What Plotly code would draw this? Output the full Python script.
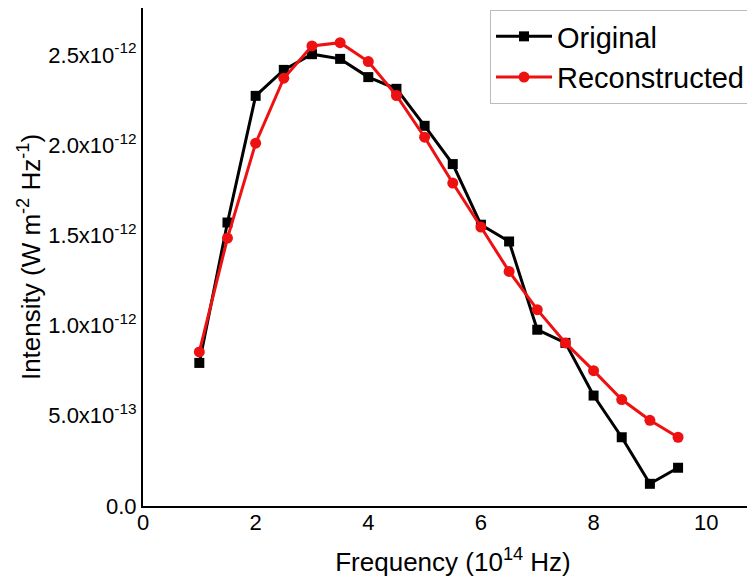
import plotly.graph_objects as go

freq = [1, 1.5, 2, 2.5, 3, 3.5, 4, 4.5, 5, 5.5, 6, 6.5, 7, 7.5, 8, 8.5, 9, 9.5]
original = [0.793, 1.571, 2.273, 2.417, 2.504, 2.478, 2.377, 2.312, 2.107, 1.895,
            1.559, 1.466, 0.977, 0.904, 0.612, 0.381, 0.123, 0.212]
reconstructed = [0.854, 1.485, 2.011, 2.371, 2.550, 2.568, 2.463, 2.275, 2.044, 1.790,
                 1.546, 1.300, 1.088, 0.904, 0.750, 0.590, 0.475, 0.381]
scale = 1e-12
original = [v * scale for v in original]
reconstructed = [v * scale for v in reconstructed]

y_tickvals = [0, 0.5e-12, 1.0e-12, 1.5e-12, 2.0e-12, 2.5e-12]
y_ticktext = ["0.0", "5.0x10<sup>-13</sup>", "1.0x10<sup>-12</sup>", "1.5x10<sup>-12</sup>",
              "2.0x10<sup>-12</sup>", "2.5x10<sup>-12</sup>"]
x_tickvals = [0, 2, 4, 6, 8, 10]

FONT = "Liberation Sans, Arial, sans-serif"

fig = go.Figure()
fig.add_trace(go.Scatter(
    x=freq, y=original, name="Original", mode="lines+markers",
    line=dict(color="black", width=3),
    marker=dict(symbol="square", size=10, color="black"),
))
fig.add_trace(go.Scatter(
    x=freq, y=reconstructed, name="Reconstructed", mode="lines+markers",
    line=dict(color="#ee1111", width=3),
    marker=dict(symbol="circle", size=11, color="#ee1111"),
))

fig.update_layout(
    width=755, height=583,
    margin=dict(l=135, r=0, t=0, b=85),
    paper_bgcolor="white", plot_bgcolor="white",
    font=dict(family=FONT, color="black"),
    showlegend=True,
    legend=dict(
        x=0.5597, y=0.996, xanchor="left", yanchor="top",
        bgcolor="white", bordercolor="#bbbbbb", borderwidth=1,
        font=dict(size=29, family=FONT, color="black"),
        itemwidth=56, tracegroupgap=0,
    ),
    xaxis=dict(
        range=[0, 11.008], tickvals=x_tickvals, ticks="", showgrid=False, automargin=False,
        zeroline=False, showline=True, linecolor="black", linewidth=2, mirror=True,
        tickfont=dict(size=22, family=FONT), ticklabelstandoff=-4,
        title=dict(text="Frequency (10<sup>14</sup> Hz)", font=dict(size=26, family=FONT), standoff=18),
    ),
    yaxis=dict(
        range=[0, 2.760e-12], tickvals=y_tickvals, ticktext=y_ticktext, ticks="", automargin=False,
        showgrid=False, zeroline=False, showline=True, linecolor="black", linewidth=2,
        tickfont=dict(size=22, family=FONT),
        title=dict(text="Intensity (W m<sup>-2</sup> Hz<sup>-1</sup>)", font=dict(size=26, family=FONT), standoff=0),
    ),
)

fig.write_html("out.html")
